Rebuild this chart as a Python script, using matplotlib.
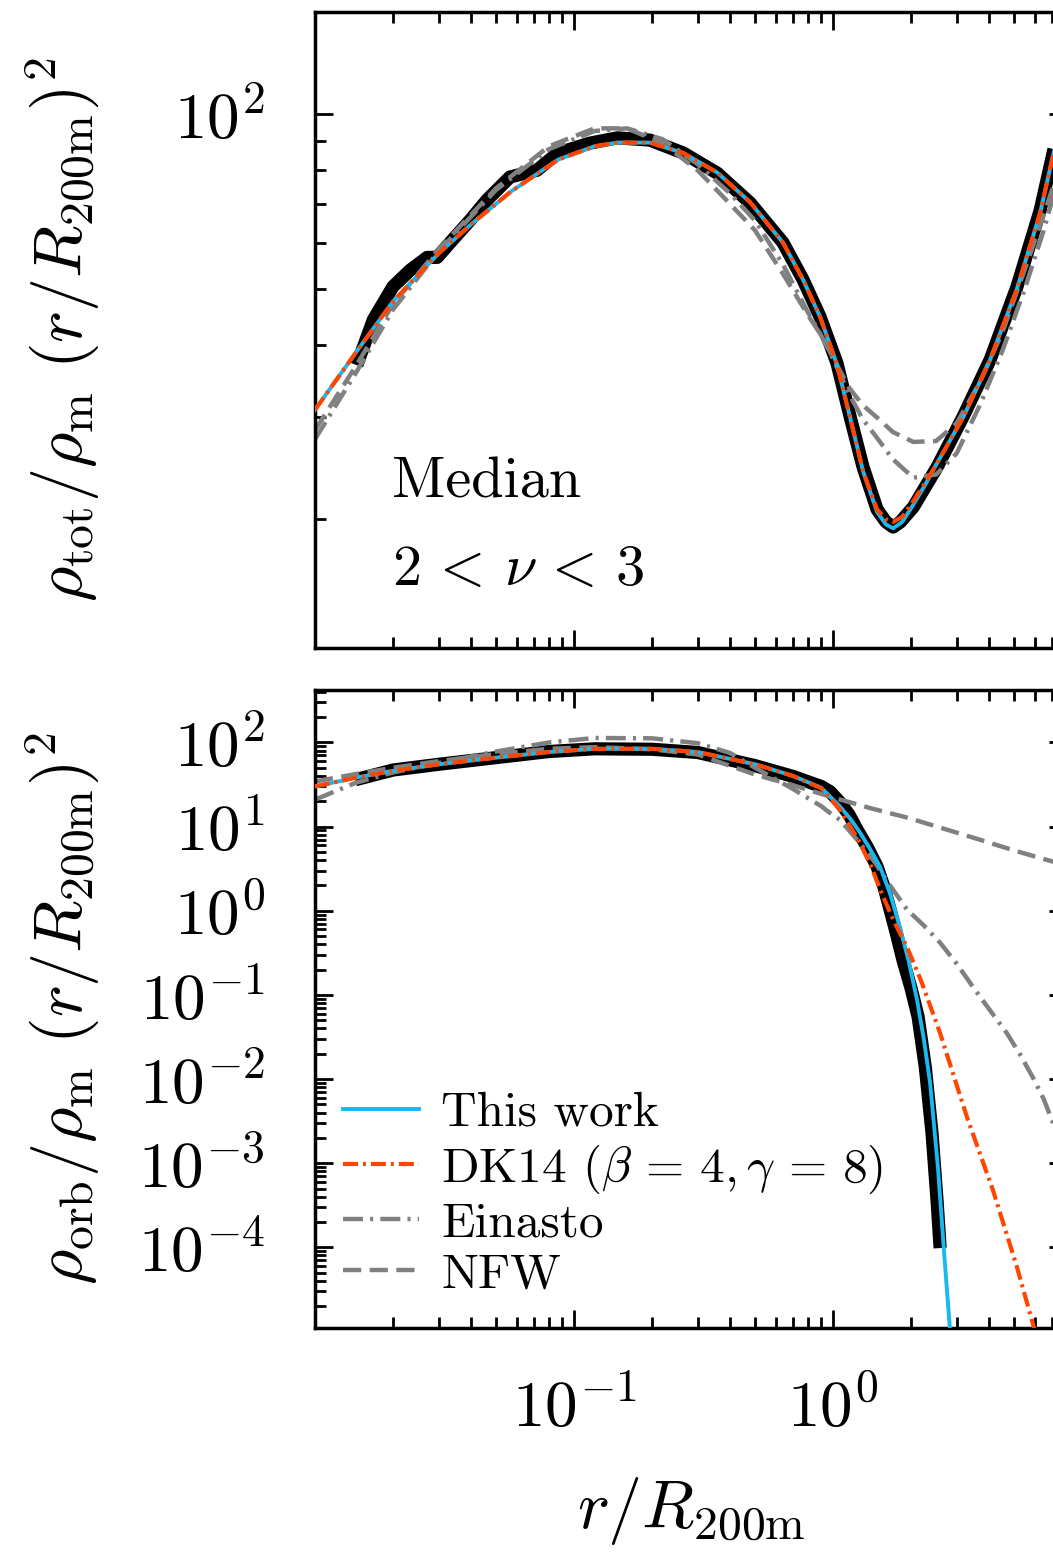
import numpy as np
import matplotlib
matplotlib.use("Agg")
import matplotlib.pyplot as plt
from matplotlib.ticker import LogLocator, NullFormatter

plt.rcParams['font.family'] = 'serif'
plt.rcParams['font.serif'] = ['cmr10']
plt.rcParams['mathtext.fontset'] = 'cm'
plt.rcParams['axes.formatter.use_mathtext'] = True
plt.rcParams['axes.unicode_minus'] = False

# ---- top panel: total density ----
r_dat_top = [0.0145, 0.0168, 0.020, 0.0233, 0.0271, 0.0296, 0.0332, 0.0397, 0.0461, 0.0566,
             0.0719, 0.0867, 0.115, 0.147, 0.196, 0.264, 0.357, 0.478, 0.641, 0.766,
             0.891, 1.035, 1.163, 1.306, 1.479, 1.6, 1.706, 1.82, 2.04, 2.25,
             2.52, 3.18, 4.04, 5.13, 6.30, 7.07, 8.0]
v_dat_top = [36.9, 44.2, 50.4, 53.8, 56.6, 56.6, 60.0, 65.6, 71.1, 77.9,
             80.0, 85.7, 89.1, 91.0, 90.2, 85.7, 79.1, 70.3, 60.0, 51.8,
             44.7, 37.2, 30.1, 24.6, 20.8, 19.8, 19.4, 19.8, 21.0, 22.6,
             24.6, 30.1, 37.7, 50.4, 68.2, 85.7, 108.0]

r_fit_top = [0.01, 0.0145, 0.02, 0.03, 0.04, 0.057, 0.087, 0.12, 0.147, 0.196,
             0.264, 0.357, 0.478, 0.641, 0.766, 0.891, 1.035, 1.163, 1.306, 1.479,
             1.6, 1.706, 1.85, 2.04, 2.25, 2.52, 3.18, 4.04, 5.13, 6.3, 7.07, 8.0]
v_this_top = [30.9, 39.0, 47.5, 57.5, 64.5, 73.5, 83.5, 88.0, 89.3, 89.3,
              85.7, 79.3, 70.5, 60.0, 51.8, 44.7, 37.0, 30.0, 24.2, 20.6,
              19.6, 19.3, 19.8, 21.2, 22.8, 25.0, 30.0, 37.7, 50.0, 67.5, 85.0, 106.0]
v_dk14_top = [30.9, 39.0, 47.5, 57.5, 64.5, 73.5, 83.5, 88.0, 89.3, 89.3,
              85.7, 79.3, 70.5, 60.0, 51.8, 44.7, 37.0, 30.0, 24.2, 20.8,
              20.0, 19.8, 20.2, 21.5, 23.0, 25.0, 30.0, 37.7, 50.0, 67.5, 85.0, 106.0]

r_prof_top = [0.01, 0.0145, 0.02, 0.03, 0.05, 0.08, 0.12, 0.16, 0.22, 0.3,
              0.4, 0.5, 0.641, 0.8, 0.9, 1.0, 1.15, 1.3, 1.5, 1.7,
              2.04, 2.5, 3.0, 3.69, 4.5, 5.5, 6.5, 7.07, 8.0]
v_ein_top = [27.5, 36.0, 46.0, 58.0, 74.0, 87.0, 93.5, 94.5, 90.5, 82.0,
             73.0, 65.5, 55.0, 45.5, 41.5, 37.8, 33.0, 29.8, 27.4, 25.4,
             23.6, 23.9, 26.0, 31.5, 39.0, 50.0, 63.0, 72.0, 88.0]
v_nfw_top = [28.5, 37.0, 47.0, 58.5, 74.5, 88.0, 94.5, 94.5, 89.0, 80.0,
             70.0, 63.0, 53.0, 45.0, 41.5, 38.0, 33.8, 31.5, 29.8, 28.3,
             27.2, 27.3, 29.3, 34.5, 42.0, 54.0, 67.0, 75.0, 92.0]

# ---- bottom panel: orbiting density ----
r_dat_bot = [0.0143, 0.02, 0.03, 0.05, 0.08, 0.12, 0.2, 0.3, 0.5, 0.7,
             0.9, 0.974, 1.064, 1.15, 1.238, 1.36, 1.479, 1.57, 1.66, 1.76,
             1.86, 2.0, 2.13, 2.27, 2.41, 2.52, 2.59]
v_dat_bot = [36, 47, 55, 66, 78, 84, 83, 76, 53, 39.5,
             30, 26, 19.3, 14.0, 9.2, 5.6, 3.34, 1.95, 1.03, 0.52,
             0.261, 0.12, 0.0547, 0.0139, 2.28e-3, 3.6e-4, 9.8e-5]

r_this_bot = [0.01, 0.0143, 0.02, 0.03, 0.05, 0.08, 0.12, 0.2, 0.3, 0.5,
              0.7, 0.9, 1.064, 1.17, 1.27, 1.39, 1.518, 1.66, 1.81, 1.96,
              2.11, 2.24, 2.37, 2.54, 2.68, 2.83, 3.0]
v_this_bot = [30, 38, 46, 55, 66, 77, 84, 84, 77, 55,
              40, 29, 17.3, 12.2, 8.5, 5.4, 3.34, 1.6, 0.645, 0.25,
              0.087, 0.03, 8.9e-3, 8.9e-4, 9.1e-5, 1.0e-5, 8e-7]

r_dk14_bot = [0.01, 0.0143, 0.02, 0.03, 0.05, 0.08, 0.12, 0.2, 0.3, 0.5,
              0.7, 0.9, 1.064, 1.27, 1.4, 1.56, 1.73, 1.93, 2.2, 2.59,
              3.29, 4.14, 5.13, 5.86, 6.5]
v_dk14_bot = [30, 38, 46, 55, 66, 77, 84, 84, 77, 55,
              40, 28.5, 15.9, 6.45, 3.4, 1.47, 0.72, 0.37, 0.14, 0.035,
              3.5e-3, 4.8e-4, 5.8e-5, 1.35e-5, 4e-6]

r_ein_bot = [0.01, 0.0143, 0.02, 0.03, 0.05, 0.08, 0.12, 0.2, 0.3, 0.4,
             0.5, 0.7, 0.9, 0.974, 1.064, 1.2, 1.427, 1.65, 1.93, 2.25,
             2.59, 3.0, 3.47, 4.0, 4.69, 5.3, 5.9, 6.5, 7.07, 8.0]
v_ein_bot = [20.9, 33, 44, 57, 78, 100, 113, 112, 98, 75,
             50, 28, 17.5, 14.5, 12.0, 7.8, 4.04, 2.05, 1.03, 0.66,
             0.417, 0.235, 0.124, 0.068, 0.035, 0.019, 0.0105, 5.8e-3, 3.0e-3, 1.1e-3]

r_nfw_bot = [0.01, 0.0143, 0.02, 0.03, 0.05, 0.08, 0.12, 0.2, 0.3, 0.5,
             0.7, 0.9, 1.064, 1.4, 1.93, 2.6, 3.47, 5.0, 7.07, 8.0]
v_nfw_bot = [34.3, 42, 50, 60, 73, 84, 88, 83, 72, 41.5,
             31, 24.5, 21, 16.5, 12.8, 9.7, 7.4, 5.2, 3.83, 3.4]

blue = '#1ab8f0'
orange = 'orangered'
grey = 'grey'

fig = plt.figure(figsize=(10.53, 15.59), dpi=100)
ax1 = fig.add_axes([315/1053, (1559-648)/1559, 752/1053, 636/1559])
ax2 = fig.add_axes([315/1053, (1559-1328)/1559, 752/1053, 638/1559])


def draw(ax, rd, vd, rt, vt, rk, vk, re, ve, rn, vn):
    ax.plot(rd, vd, color='black', lw=9.5, solid_capstyle='butt', solid_joinstyle='round', zorder=1)
    ax.plot(rt, vt, color=blue, lw=2.8, label='This work', zorder=3)
    ax.plot(rk, vk, color=orange, lw=3, dashes=(3.6, 1.2, 0.7, 1.2),
            label=r'DK14 $(\beta\,=\,4, \gamma\,=\,8)$', zorder=4)
    ax.plot(re, ve, color=grey, lw=3.2, dashes=(4.5, 1.6, 0.7, 1.6), label='Einasto', zorder=2)
    ax.plot(rn, vn, color=grey, lw=3.2, dashes=(4.1, 1.9), label='NFW', zorder=2)


draw(ax1, r_dat_top, v_dat_top, r_fit_top, v_this_top, r_fit_top, v_dk14_top,
     r_prof_top, v_ein_top, r_prof_top, v_nfw_top)
draw(ax2, r_dat_bot, v_dat_bot, r_this_bot, v_this_bot, r_dk14_bot, v_dk14_bot,
     r_ein_bot, v_ein_bot, r_nfw_bot, v_nfw_bot)

for ax in (ax1, ax2):
    ax.set_xscale('log')
    ax.set_yscale('log')
    ax.set_xlim(0.01, 8)
    ax.set_xticks([0.1, 1])
    ax.tick_params(which='both', direction='in', top=True, right=True, width=2)
    ax.tick_params(which='major', length=13, labelsize=47)
    ax.tick_params(which='minor', length=8)
    ax.tick_params(axis='y', pad=36)
    ax.tick_params(axis='x', pad=36)
    for s in ax.spines.values():
        s.set_linewidth(2.5)

ax1.set_ylim(12, 150)
ax1.yaxis.set_minor_formatter(NullFormatter())
ax1.tick_params(labelbottom=False)

ax2.set_ylim(1.1e-5, 420)
ax2.yaxis.set_major_locator(LogLocator(base=10, numticks=20))
ax2.yaxis.set_minor_locator(LogLocator(base=10, subs=np.arange(2, 10), numticks=20))
ax2.yaxis.set_minor_formatter(NullFormatter())

ax1.set_ylabel(r'$\rho_{\rm tot}/\rho_{\rm m}\ (r/R_{\rm 200m})^2$', fontsize=49)
ax2.set_ylabel(r'$\rho_{\rm orb}/\rho_{\rm m}\ (r/R_{\rm 200m})^2$', fontsize=49)
ax1.yaxis.set_label_coords(-0.285, 0.5)
ax2.yaxis.set_label_coords(-0.285, 0.5)
ax2.set_xlabel(r'$r/R_{\rm 200m}$', fontsize=49)
ax2.xaxis.set_label_coords(0.5, -0.23)

ax1.text(0.102, 0.236, 'Median', transform=ax1.transAxes, fontsize=42, va='baseline')
ax1.text(0.102, 0.099, r'$2\,<\,\nu\,<\,3$', transform=ax1.transAxes, fontsize=42, va='baseline')

ax2.legend(loc='lower left', bbox_to_anchor=(0.037, 0.048), frameon=False, fontsize=35.5,
           handlelength=1.55, handletextpad=0.45, labelspacing=0.13, borderpad=0, borderaxespad=0)

fig.savefig('out.png', dpi=100)
